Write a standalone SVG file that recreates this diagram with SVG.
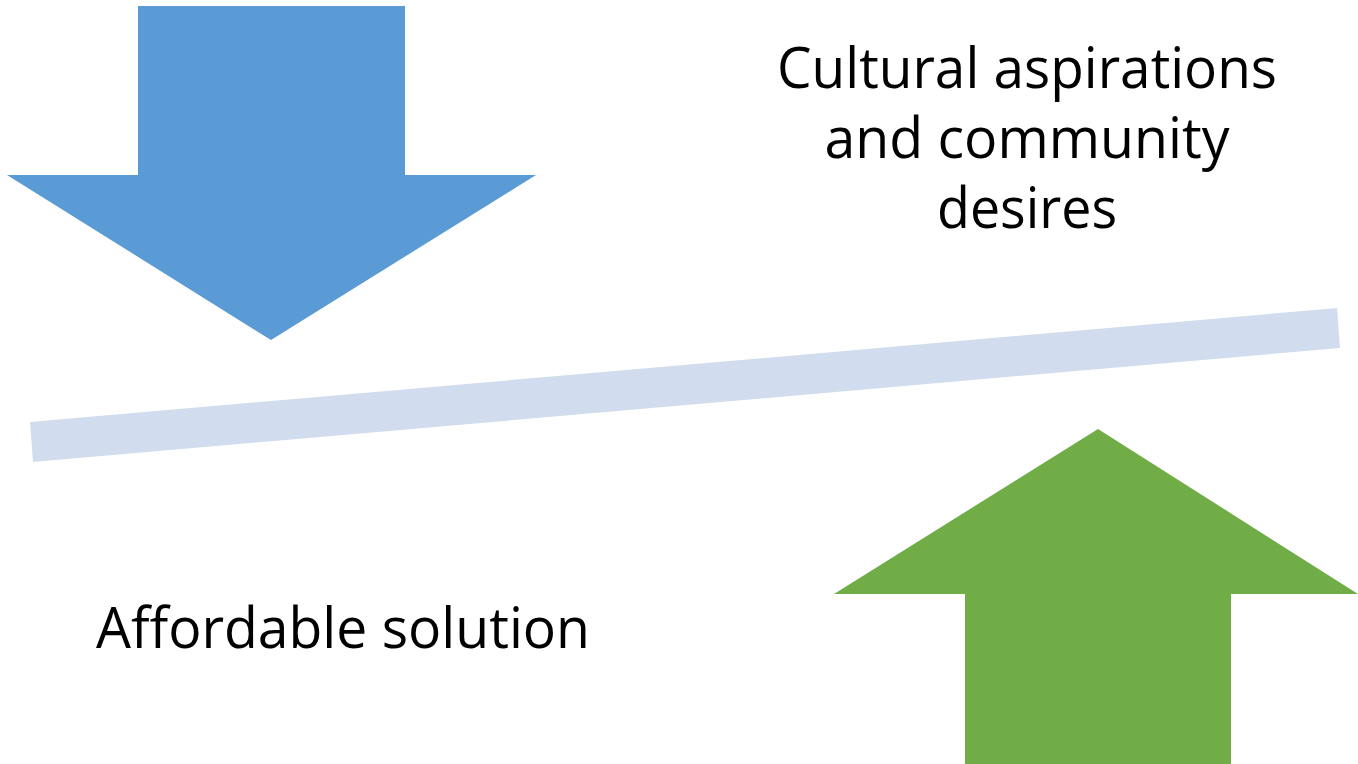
<svg xmlns="http://www.w3.org/2000/svg" width="1358" height="764" viewBox="0 0 1358 764">
<style>
.t{font-family:"Open Sans","Liberation Sans",sans-serif;font-size:56px;fill:#000}
</style>
<rect width="1358" height="764" fill="#fff"/>
<g id="beam"><polygon points="30,422 1337,308 1340,348 33,462" fill="#D1DDEE"/></g>
<g id="down-arrow"><polygon points="138,6 405,6 405,175 536,175 271,340 7,175 138,175" fill="#5B9BD5"/></g>
<g id="up-arrow"><polygon points="1098,429 1358,594 1231,594 1231,764 965,764 965,594 834,594" fill="#70AD47"/></g>
<g id="label-top">
<text class="t" x="1027" y="88" text-anchor="middle" textLength="500" lengthAdjust="spacingAndGlyphs">Cultural aspirations</text>
<text class="t" x="1027" y="158" text-anchor="middle" textLength="405" lengthAdjust="spacingAndGlyphs">and community</text>
<text class="t" x="1027" y="228" text-anchor="middle" textLength="180" lengthAdjust="spacingAndGlyphs">desires</text>
</g>
<g id="label-bottom">
<text class="t" x="96" y="648" textLength="494" lengthAdjust="spacingAndGlyphs">Affordable solution</text>
</g>
<g id="connectors"></g>
</svg>
